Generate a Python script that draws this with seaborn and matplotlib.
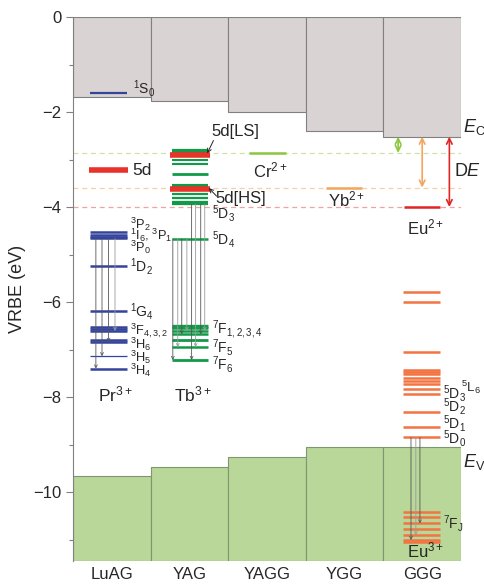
import numpy as np
import matplotlib
matplotlib.use("Agg")
import matplotlib.pyplot as plt
import seaborn as sns

# ---------------- data ----------------
hosts = ["LuAG", "YAG", "YAGG", "YGG", "GGG"]
ec = [-1.68, -1.76, -2.01, -2.40, -2.52]          # conduction band bottom
ev = [-9.66, -9.47, -9.26, -9.05, -9.05]          # valence band top

# Pr3+ in LuAG
pr_1s0 = -1.60
pr_5d = -3.23
pr_levels = [-4.53, -4.58, -4.62, -4.66, -5.24, -6.18, -6.53, -6.57, -6.61,
             -6.79, -6.84, -7.14, -7.40]
pr_from = -4.66
pr_to = [-7.40, -7.14, -6.84, -6.61]

# Tb3+ in YAG
tb_5d_ls_red = -2.90
tb_5d_hs_red = -3.63
tb_green = [-2.81, -3.01, -3.10, -3.31, -3.56, -3.73, -3.82, -3.89, -3.94,
            -4.67, -6.51, -6.55, -6.61, -6.68, -6.79, -6.95, -7.22]
tb_5d4 = -4.67
tb_5d3 = -3.94
tb_to = [-7.22, -6.95, -6.68, -6.61]

# divalent ground states
cr2 = -2.86
yb2 = -3.59
eu2 = -4.00

# Eu3+ in GGG
eu3_upper = [-5.79, -6.00, -7.05, -7.42, -7.47, -7.52, -7.59, -7.66, -7.73,
             -7.82, -7.94, -8.32, -8.64, -8.85]
eu3_7f = [-10.41, -10.52, -10.66, -10.78, -10.91, -11.01, -11.06]
eu3_from = -8.85
eu3_to = [-11.01, -10.91, -10.66]

ymin = -11.45

# ---------------- style ----------------
sns.set_style("white")
plt.rcParams["font.family"] = ["Liberation Sans", "DejaVu Sans"]
plt.rcParams["mathtext.fontset"] = "custom"
plt.rcParams["mathtext.rm"] = "Liberation Sans"
plt.rcParams["mathtext.it"] = "Liberation Sans:italic"
plt.rcParams["mathtext.default"] = "regular"

GREY = "#d9d3d3"
GREEN_BOX = "#b9d798"
BLUE = "#34449a"
RED = "#e8322a"
TBG = "#119a48"
CRG = "#8cc63f"
YBO = "#f3a55c"
EUR = "#e02525"
EUO = "#f27442"
DARK = "#555555"
LIGHT = "#9a9a9a"

fig = plt.figure(figsize=(4.85, 5.87), dpi=100)
ax = fig.add_axes([73 / 485, 1 - 561 / 587, 388 / 485, 544 / 587])

# conduction band boxes
sns.barplot(x=hosts, y=ec, color=GREY, width=1.0, saturation=1,
            edgecolor="#808080", linewidth=0.8, ax=ax, zorder=1)
# valence band boxes
xs = np.arange(len(hosts))
ax.bar(xs, [ymin - e for e in ev], bottom=ev, width=1.0, color=GREEN_BOX,
       edgecolor="#7f9670", linewidth=0.8, zorder=1)

ax.set_xlim(-0.5, 4.5)
ax.set_ylim(ymin, 0)

# dashed reference lines
for yv, c in [(cr2, "#cfe3a8"), (yb2, "#f8cfa6"), (eu2, "#f2a3a0")]:
    ax.axhline(yv, ls=(0, (4, 3)), lw=0.9, color=c, zorder=2)

def hl(y, x0, x1, color, lw):
    ax.hlines(y, x0, x1, colors=color, lw=lw, zorder=3)

# Pr3+ (LuAG)
px0, px1 = -0.275, 0.19
hl(pr_1s0, px0, px1, BLUE, 1.6)
hl(pr_5d, -0.29, 0.21, RED, 4.0)
for i, y in enumerate(pr_levels):
    hl(y, px0, px1, BLUE, 0.9 if i == 11 else 1.8)
for frac, yt, c in zip([0.15, 0.32, 0.5, 0.68], pr_to, [DARK, DARK, DARK, LIGHT]):
    x = px0 + (px1 - px0) * frac
    ax.annotate("", xy=(x, yt), xytext=(x, pr_from),
                arrowprops=dict(arrowstyle="->", lw=0.6, color=c,
                                shrinkA=0, shrinkB=0, mutation_scale=5), zorder=4)

# Tb3+ (YAG)
tx0, tx1 = 1 - 0.23, 1 + 0.24
tb_lw = [3.0, 1.5, 1.5, 2.0, 3.0, 1.6, 1.6, 1.6, 1.6, 1.8,
         2.4, 1.8, 1.8, 1.8, 2.0, 1.8, 2.0]
for y, w in zip(tb_green, tb_lw):
    hl(y, tx0, tx1, TBG, w)
hl(tb_5d_ls_red, 1 - 0.25, 1 + 0.27, RED, 4.0)
hl(tb_5d_hs_red, 1 - 0.25, 1 + 0.27, RED, 4.0)
fracs = [0.035, 0.17, 0.28, 0.42, 0.55, 0.66, 0.80, 0.91]
starts = [tb_5d4] * 4 + [tb_5d3] * 4
ends = tb_to + tb_to
for k, (frac, ys, yt) in enumerate(zip(fracs, starts, ends)):
    x = tx0 + (tx1 - tx0) * frac
    ax.annotate("", xy=(x, yt), xytext=(x, ys),
                arrowprops=dict(arrowstyle="->", lw=0.6,
                                color=DARK if k % 2 == 0 else LIGHT,
                                shrinkA=0, shrinkB=0, mutation_scale=5), zorder=4)

# divalent ions
hl(cr2, 2 - 0.23, 2 + 0.24, CRG, 1.8)
hl(yb2, 3 - 0.24, 3 + 0.23, YBO, 1.8)
hl(eu2, 4 - 0.235, 4 + 0.23, EUR, 1.8)

# Eu3+ (GGG)
ex0, ex1 = 4 - 0.25, 4 + 0.23
for y in eu3_upper + eu3_7f:
    hl(y, ex0, ex1, EUO, 1.8)
for frac, yt, c in zip([0.22, 0.35, 0.46], eu3_to, [DARK, LIGHT, DARK]):
    x = ex0 + (ex1 - ex0) * frac
    ax.annotate("", xy=(x, yt), xytext=(x, eu3_from),
                arrowprops=dict(arrowstyle="->", lw=0.6, color=c,
                                shrinkA=0, shrinkB=0, mutation_scale=5), zorder=4)

# double arrows from GGG conduction band
for x, yt, c in [(3.69, cr2, CRG), (4.0, yb2, YBO), (4.35, eu2, EUR)]:
    ax.annotate("", xy=(x, yt), xytext=(x, ec[4]),
                arrowprops=dict(arrowstyle="<->", lw=1.2, color=c,
                                shrinkA=0, shrinkB=0, mutation_scale=10), zorder=4)

# ---------------- texts ----------------
fs_l = 10
def t(x, y, s, fs=fs_l, **kw):
    ax.text(x, y, s, fontsize=fs, va="center", ha="left", clip_on=False, zorder=5, **kw)

fs_pr = 9.3
t(0.27, -1.50, r"$^1$S$_0$")
t(0.27, -3.23, "5d", fs=12.5)
t(0.23, -4.37, r"$^3$P$_2$", fs=fs_pr)
t(0.23, -4.60, r"$^1$I$_6$, $^3$P$_1$", fs=fs_pr)
t(0.23, -4.84, r"$^3$P$_0$", fs=fs_pr)
t(0.23, -5.26, r"$^1$D$_2$")
t(0.23, -6.19, r"$^1$G$_4$")
t(0.23, -6.60, r"$^3$F$_{4,3,2}$", fs=fs_pr)
t(0.23, -6.88, r"$^3$H$_6$", fs=fs_pr)
t(0.23, -7.16, r"$^3$H$_5$", fs=fs_pr)
t(0.23, -7.44, r"$^3$H$_4$", fs=fs_pr)
ax.text(0.05, -7.94, r"Pr$^{3+}$", fontsize=12.5, ha="center", va="center")
ax.text(1.05, -7.94, r"Tb$^{3+}$", fontsize=12.5, ha="center", va="center")

t(1.29, -4.13, r"$^5$D$_3$")
t(1.29, -4.69, r"$^5$D$_4$")
t(1.29, -6.59, r"$^7$F$_{1,2,3,4}$")
t(1.29, -6.95, r"$^7$F$_5$")
t(1.29, -7.31, r"$^7$F$_6$")

t(1.28, -2.42, "5d[LS]", fs=12)
ax.annotate("", xy=(1.23, -2.87), xytext=(1.31, -2.60),
            arrowprops=dict(arrowstyle="->", lw=0.7, color="#222222",
                            shrinkA=0, shrinkB=0, mutation_scale=7), zorder=5)
t(1.33, -3.83, "5d[HS]", fs=12)
ax.annotate("", xy=(1.25, -3.60), xytext=(1.35, -3.77),
            arrowprops=dict(arrowstyle="->", lw=0.7, color="#222222",
                            shrinkA=0, shrinkB=0, mutation_scale=7), zorder=5)

ax.text(2.04, -3.22, r"Cr$^{2+}$", fontsize=12, ha="center", va="center")
ax.text(3.02, -3.83, r"Yb$^{2+}$", fontsize=12, ha="center", va="center")
ax.text(4.05, -4.44, r"Eu$^{2+}$", fontsize=12, ha="center", va="center")

t(4.27, -7.92, r"$^5$D$_3$")
t(4.50, -7.79, r"$^5$L$_6$", fs=9.5)
t(4.27, -8.19, r"$^5$D$_2$")
t(4.27, -8.55, r"$^5$D$_1$")
t(4.27, -8.88, r"$^5$D$_0$")
t(4.27, -10.67, r"$^7$F$_J$")
ax.text(4.05, -11.22, r"Eu$^{3+}$", fontsize=12, ha="center", va="center", zorder=5)

t(4.53, -2.32, r"$\mathit{E}_{\mathrm{C}}$", fs=13)
t(4.53, -9.37, r"$\mathit{E}_{\mathrm{V}}$", fs=13)
t(4.41, -3.26, r"D$\mathit{E}$", fs=13)

# ---------------- axes ----------------
for s in ["top", "right", "bottom"]:
    ax.spines[s].set_visible(False)
ax.spines["left"].set_color("#808080")
ax.spines["left"].set_linewidth(0.8)
ax.set_yticks([0, -2, -4, -6, -8, -10])
ax.set_yticks([-1, -3, -5, -7, -9, -11], minor=True)
ax.tick_params(axis="y", which="major", direction="out", length=5, width=0.8,
               color="#808080", labelsize=12, left=True)
ax.tick_params(axis="y", which="minor", direction="out", length=3, width=0.8,
               color="#808080", left=True)
ax.tick_params(axis="x", length=0, labelsize=12, pad=4)
ax.set_xlabel("")
ax.set_ylabel("VRBE (eV)", fontsize=13)
ax.yaxis.set_label_coords(-0.12, 0.5)

fig.savefig("out.png", dpi=100)
